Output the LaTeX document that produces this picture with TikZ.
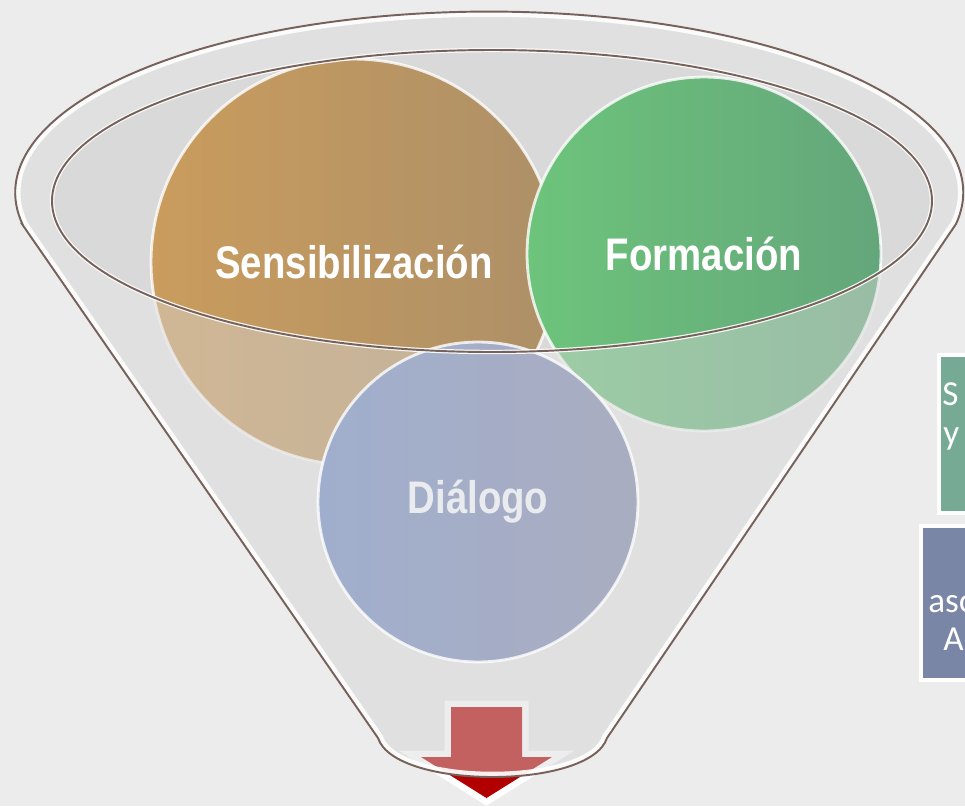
\documentclass[tikz,border=0pt]{standalone}
\usepackage{fontspec}
\setmainfont{Liberation Sans}
\newfontfamily\boxfont{Carlito}
\usetikzlibrary{positioning}
\definecolor{FunBg}{HTML}{ECECEC}
\definecolor{FunGlass}{HTML}{E6E6E6}
\definecolor{FunInner}{HTML}{D9D9D9}
\definecolor{FunRim}{HTML}{76625A}
\definecolor{SensA}{HTML}{CA9C5D}
\definecolor{SensB}{HTML}{AD9068}
\definecolor{FormA}{HTML}{6DC47B}
\definecolor{FormB}{HTML}{64A67B}
\definecolor{DialA}{HTML}{A0AECD}
\definecolor{DialB}{HTML}{A9ADC0}
\definecolor{DialText}{HTML}{EAEBEF}
\definecolor{ArrRed}{HTML}{B20000}
\definecolor{BoxGreen}{HTML}{76AA95}
\definecolor{BoxBlue}{HTML}{7A86A6}
\newcommand\funnelpath{(22,-224) -- (378,-738) .. controls (395,-790) and (590,-790) .. (607,-738) -- (956,-224) arc[start angle=-10, end angle=190, x radius=474, y radius=181] -- cycle}
\newcommand\arrowpath{(451,-707) -- (522,-707) -- (522,-757) -- (552,-757) -- (486.5,-798) -- (421,-757) -- (451,-757) -- cycle}

\begin{document}
\begin{tikzpicture}[
  x=0.02cm, y=0.02cm,
  ball/.style={circle,inner sep=0pt,draw=white,draw opacity=0.8,line width=1.6pt,text=white,
    font=\bfseries\fontsize{26}{30}\selectfont},
  rim/.style={draw=FunRim,line width=1.1pt},
  panel/.style={draw=white,line width=2.3pt,anchor=north west,minimum width=2cm,inner sep=0pt},
  frag/.style={anchor=base west,inner sep=0pt,text=white,font=\boxfont\fontsize{20}{23}\selectfont},
]
\useasboundingbox (0,0) rectangle (965,-806);
\clip (0,0) rectangle (965,-806);
\fill[FunBg] (0,0) rectangle (965,-806);

% funnel, back side
\fill[FunGlass] \funnelpath;
\fill[FunInner] (492,-201) ellipse [x radius=440, y radius=151];

% upper balls
\node[ball,minimum size=8.12cm,left color=SensA,right color=SensB] (sens) at (354,-262)
  {\scalebox{0.84}[1]{Sensibilización}};
\node[ball,minimum size=7.08cm,left color=FormA,right color=FormB] (form) at (704,-254)
  {\scalebox{0.84}[1]{Formación}};

% output arrow
\draw[white,line width=7.4pt] \arrowpath;
\fill[ArrRed] \arrowpath;

% funnel, front glass
\fill[FunInner,opacity=0.45,even odd rule] \funnelpath (492,-201) ellipse [x radius=440, y radius=151];
\begin{scope}
  \clip \funnelpath;
  \draw[white,opacity=0.9,line width=6pt] \funnelpath;
\end{scope}
\draw[rim] \funnelpath;

\node[ball,minimum size=6.4cm,left color=DialA,right color=DialB,text=DialText] (dial) at (478,-502)
  {\scalebox{0.84}[1]{Diálogo}};

% mouth of the funnel
\draw[white,opacity=0.9,line width=2.5pt] (492,-201) ellipse [x radius=440, y radius=151];
\draw[rim] (492,-201) ellipse [x radius=440, y radius=151];

% side panels
\node[panel,fill=BoxGreen,minimum height=3.16cm] (boxA) at (937,-353) {};
\node[panel,fill=BoxBlue,minimum height=3.08cm] (boxB) at (919,-524) {};
\node[frag] (fragS) at (942,-405) {S};
\node[frag] (fragY) at (943,-444) {y};
\node[frag] (fragAso) at (928,-612) {aso};
\node[frag] (fragA) at (943,-650) {A};
\end{tikzpicture}
\end{document}
